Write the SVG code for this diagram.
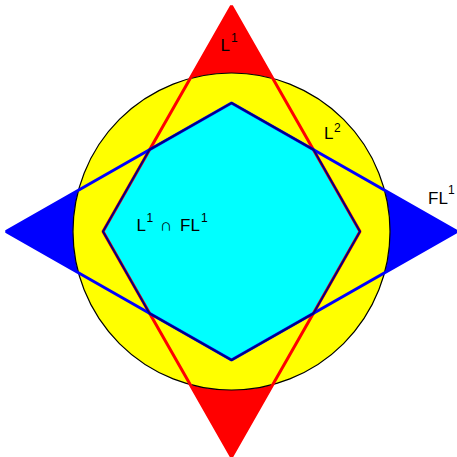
<svg xmlns="http://www.w3.org/2000/svg" width="457" height="457" viewBox="0 0 457 457">
<style>
.lbl{font-family:"Liberation Sans",Arial,sans-serif;font-size:17px;fill:#000}
.sup{font-family:"Liberation Sans",Arial,sans-serif;font-size:12px;fill:#000}
.cap{font-family:"Liberation Sans","DejaVu Sans",sans-serif;font-size:17px;fill:#000}
</style>
<rect width="457" height="457" fill="#fff"/>
<g id="L1-tips">
<path d="M231.5 6 L190.2 78.5 A158.5 158.5 0 0 1 272.8 78.5 Z" fill="#ff0000"/>
<path d="M231.5 457 L190.2 384.5 A158.5 158.5 0 0 0 272.8 384.5 Z" fill="#ff0000"/>
</g>
<g id="FL1-tips">
<path d="M6 231.5 L78.5 190.2 A158.5 158.5 0 0 0 78.5 272.8 Z" fill="#0000ff"/>
<path d="M457 231.5 L384.5 190.2 A158.5 158.5 0 0 1 384.5 272.8 Z" fill="#0000ff"/>
</g>
<g id="L2">
<circle cx="231.5" cy="231.5" r="158.5" fill="#ffff00" stroke="#000" stroke-width="1.2"/>
</g>
<g id="intersection">
<polygon points="231.5,103 149.6,149.6 103,231.5 149.6,313.4 231.5,360 313.4,313.4 360,231.5 313.4,149.6" fill="#00ffff"/>
</g>
<g id="connectors" fill="none">
<polygon points="231.5,6 103,231.5 231.5,457 360,231.5" stroke="#ff0000" stroke-width="3" stroke-linejoin="bevel"/>
<polygon points="6,231.5 231.5,103 457,231.5 231.5,360" stroke="#0000ff" stroke-width="3" stroke-linejoin="bevel"/>
<polygon points="231.5,103 149.6,149.6 103,231.5 149.6,313.4 231.5,360 313.4,313.4 360,231.5 313.4,149.6" stroke="#000080" stroke-width="2"/>
</g>
<g id="labels">
<text class="lbl" x="220.5" y="51">L</text><text class="sup" x="231" y="42">1</text>
<text class="lbl" x="324" y="138.5">L</text><text class="sup" x="334" y="131.5">2</text>
<text class="lbl" x="428" y="203.5">FL</text><text class="sup" x="448" y="194">1</text>
<text class="lbl" x="136.5" y="231">L</text><text class="sup" x="146.5" y="222">1</text>
<text class="cap" x="160" y="231">∩</text>
<text class="lbl" x="180" y="231">FL</text><text class="sup" x="201" y="222">1</text>
</g>
</svg>
